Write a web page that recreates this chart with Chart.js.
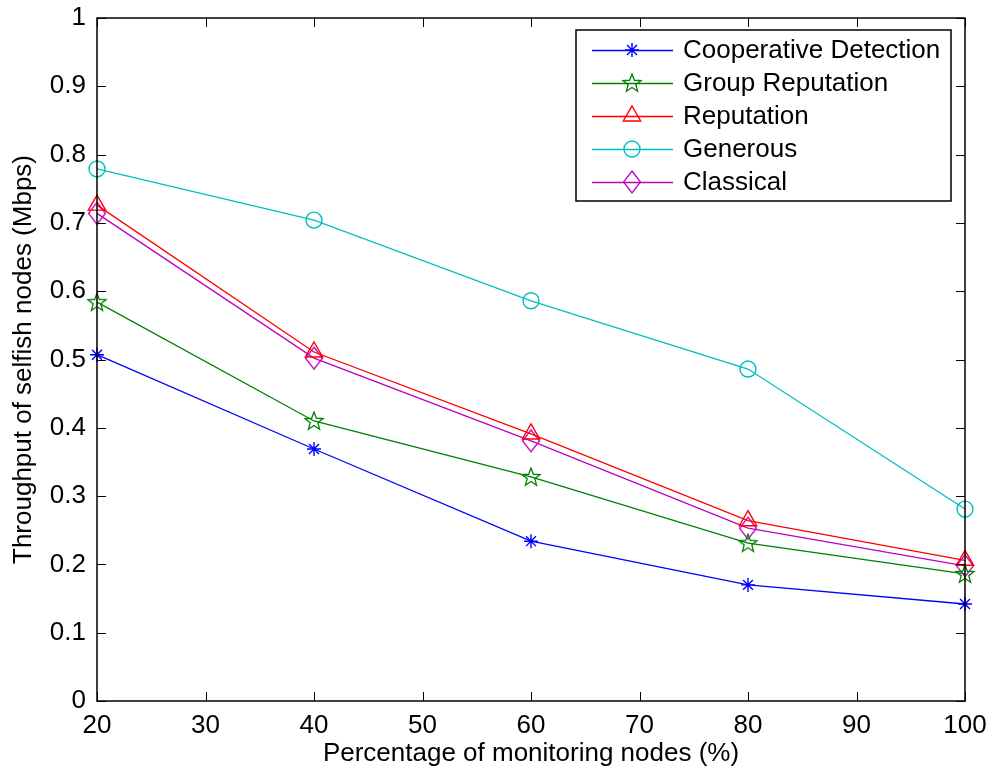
<!DOCTYPE html>
<html>
<head>
<meta charset="utf-8">
<script src="https://cdn.jsdelivr.net/npm/chart.js@4/dist/chart.umd.min.js"></script>
<style>
  html, body { margin: 0; padding: 0; background: #fff; }
  #wrap { width: 988px; height: 774px; }
</style>
</head>
<body>
<div id="wrap"><canvas id="throughputChart" width="988" height="774"></canvas></div>
<script>
// Data
const monitoringPct = [20, 40, 60, 80, 100];
const cooperativeDetection = [0.507, 0.369, 0.234, 0.170, 0.142];
const groupReputation = [0.584, 0.410, 0.328, 0.231, 0.186];
const reputation = [0.726, 0.511, 0.391, 0.264, 0.206];
const generous = [0.779, 0.704, 0.586, 0.486, 0.281];
const classical = [0.714, 0.502, 0.381, 0.253, 0.198];

const xTickLabels = ['20', '30', '40', '50', '60', '70', '80', '90', '100'];
const yTickLabels = ['0', '0.1', '0.2', '0.3', '0.4', '0.5', '0.6', '0.7', '0.8', '0.9', '1'];

const FONT = '"Liberation Sans", Arial, Helvetica, sans-serif';
const FONT_SIZE = 26;

// hollow five-pointed star marker
function makeStar(color) {
  const c = document.createElement('canvas');
  c.width = 22; c.height = 22;
  const g = c.getContext('2d');
  g.strokeStyle = color;
  g.lineWidth = 1.3;
  g.beginPath();
  for (let i = 0; i < 10; i++) {
    const r = i % 2 === 0 ? 9.5 : 4;
    const a = -Math.PI / 2 + i * Math.PI / 5;
    const px = 11 + r * Math.cos(a), py = 11.5 + r * Math.sin(a);
    if (i === 0) g.moveTo(px, py); else g.lineTo(px, py);
  }
  g.closePath();
  g.stroke();
  return c;
}

// hollow diamond marker, a bit taller than wide
function makeDiamond(color) {
  const c = document.createElement('canvas');
  c.width = 22; c.height = 26;
  const g = c.getContext('2d');
  g.strokeStyle = color;
  g.lineWidth = 1.3;
  g.beginPath();
  g.moveTo(11, 2);
  g.lineTo(19.5, 13);
  g.lineTo(11, 24);
  g.lineTo(2.5, 13);
  g.closePath();
  g.stroke();
  return c;
}

function pts(values) {
  return values.map((v, i) => ({ x: monitoringPct[i], y: v }));
}

function series(label, values, color, pointStyle, radius) {
  return {
    label: label,
    data: pts(values),
    borderColor: color,
    backgroundColor: 'rgba(0,0,0,0)',
    borderWidth: 1.3,
    pointStyle: pointStyle,
    pointRadius: radius,
    pointBorderColor: color,
    pointBackgroundColor: 'rgba(0,0,0,0)',
    pointBorderWidth: 1.4,
    tension: 0,
    clip: false
  };
}

const datasets = [
  series('Cooperative Detection', cooperativeDetection, '#0000ff', 'star', 7),
  series('Group Reputation', groupReputation, '#008000', makeStar('#008000'), 9),
  series('Reputation', reputation, '#ff0000', 'triangle', 10),
  series('Generous', generous, '#00bfbf', 'circle', 8),
  series('Classical', classical, '#bf00bf', makeDiamond('#bf00bf'), 10)
];

// box around the plot and MATLAB-style inward ticks
const boxTicks = {
  id: 'boxTicks',
  afterDatasetsDraw(chart) {
    const { ctx, chartArea: a, scales } = chart;
    ctx.save();
    ctx.strokeStyle = '#000';
    ctx.lineWidth = 1;
    const len = 9;
    ctx.beginPath();
    scales.x.ticks.forEach(t => {
      const px = Math.round(scales.x.getPixelForValue(t.value)) + 0.5;
      ctx.moveTo(px, a.bottom); ctx.lineTo(px, a.bottom - len);
      ctx.moveTo(px, a.top); ctx.lineTo(px, a.top + len);
    });
    scales.y.ticks.forEach(t => {
      const py = Math.round(scales.y.getPixelForValue(t.value)) + 0.5;
      ctx.moveTo(a.left, py); ctx.lineTo(a.left + len, py);
      ctx.moveTo(a.right, py); ctx.lineTo(a.right - len, py);
    });
    ctx.stroke();
    ctx.lineWidth = 1.5;
    ctx.strokeRect(a.left, a.top, a.right - a.left, a.bottom - a.top);
    ctx.restore();
  }
};

// legend box inside the plot, top right
const insetLegend = {
  id: 'insetLegend',
  afterDraw(chart) {
    const { ctx } = chart;
    const bx = 576, by = 30, bw = 375, bh = 171;
    ctx.save();
    ctx.fillStyle = '#fff';
    ctx.fillRect(bx, by, bw, bh);
    ctx.strokeStyle = '#000';
    ctx.lineWidth = 1.5;
    ctx.strokeRect(bx, by, bw, bh);
    ctx.font = FONT_SIZE + 'px ' + FONT;
    ctx.textBaseline = 'middle';
    chart.data.datasets.forEach((ds, i) => {
      const y = 50 + i * 33;
      ctx.strokeStyle = ds.borderColor;
      ctx.lineWidth = 1.3;
      ctx.beginPath();
      ctx.moveTo(592, y + 0.5); ctx.lineTo(673, y + 0.5);
      ctx.stroke();
      ctx.fillStyle = 'rgba(0,0,0,0)';
      ctx.lineWidth = 1.4;
      Chart.helpers.drawPoint(ctx, {
        pointStyle: ds.pointStyle, radius: ds.pointRadius, rotation: 0, borderWidth: 1.4
      }, 632, y);
      ctx.fillStyle = '#000';
      ctx.fillText(ds.label, 683, y + 1);
    });
    ctx.restore();
  }
};

new Chart(document.getElementById('throughputChart'), {
  type: 'line',
  data: { datasets: datasets },
  options: {
    responsive: false,
    animation: false,
    layout: { padding: { left: 0, top: 18, right: 23, bottom: 0 } },
    plugins: {
      legend: { display: false },
      tooltip: { enabled: false }
    },
    scales: {
      x: {
        type: 'linear',
        min: 20,
        max: 100,
        afterFit: s => { s.height = 73; s.paddingLeft = 0; s.paddingRight = 0; },
        afterBuildTicks: s => { s.ticks = xTickLabels.map(v => ({ value: Number(v) })); },
        grid: { display: false },
        border: { display: false },
        ticks: {
          color: '#000',
          font: { family: FONT, size: FONT_SIZE },
          padding: 1,
          maxRotation: 0,
          callback: (v) => xTickLabels[xTickLabels.indexOf(String(v))]
        },
        title: {
          display: true,
          text: 'Percentage of monitoring nodes (%)',
          color: '#000',
          font: { family: FONT, size: FONT_SIZE },
          padding: { top: 0, bottom: 5 }
        }
      },
      y: {
        min: 0,
        max: 1,
        afterFit: s => { s.width = 97; s.paddingTop = 0; s.paddingBottom = 0; },
        afterBuildTicks: s => { s.ticks = yTickLabels.map(v => ({ value: Number(v) })); },
        grid: { display: false },
        border: { display: false },
        ticks: {
          color: '#000',
          font: { family: FONT, size: FONT_SIZE },
          padding: 3,
          callback: (v, i) => yTickLabels[i]
        },
        title: {
          display: true,
          text: 'Throughput of selfish nodes (Mbps)',
          color: '#000',
          font: { family: FONT, size: FONT_SIZE },
          padding: { top: 8, bottom: 0 }
        }
      }
    }
  },
  plugins: [boxTicks, insetLegend]
});
</script>
</body>
</html>
